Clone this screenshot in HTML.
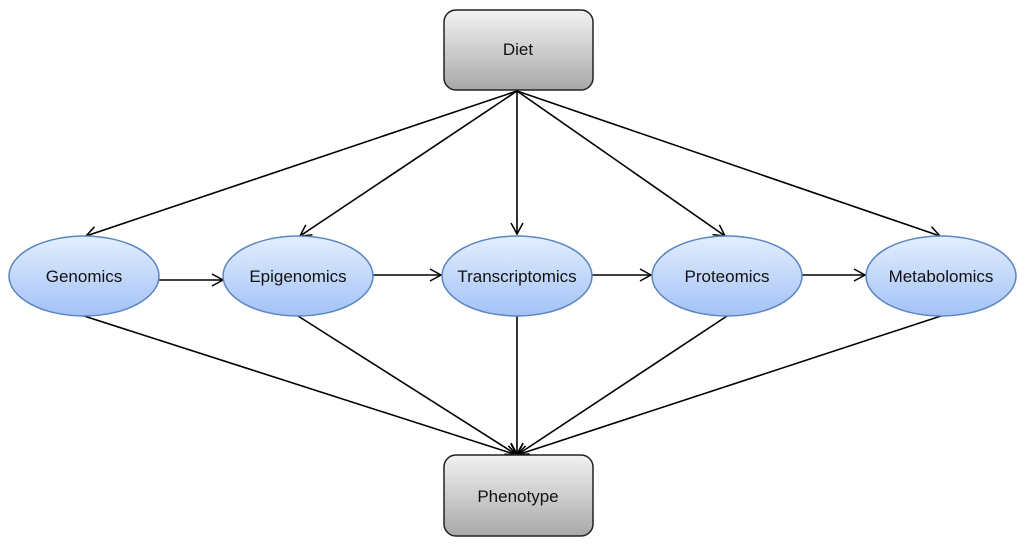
<!DOCTYPE html>
<html><head><style>
body{margin:0;background:#fff;}
svg{display:block;}
text{font-family:"Liberation Sans",sans-serif;font-size:17px;fill:#111;text-anchor:middle;}
</style></head><body>
<svg width="1024" height="550" viewBox="0 0 1024 550">
<defs>
<linearGradient id="g" x1="0" y1="0" x2="0" y2="1"><stop offset="0" stop-color="#f2f2f2"/><stop offset="1" stop-color="#a8a8a8"/></linearGradient>
<linearGradient id="b" x1="0" y1="0" x2="0" y2="1"><stop offset="0" stop-color="#e4eeff"/><stop offset="1" stop-color="#a2c2f6"/></linearGradient>
<marker id="a" markerWidth="14" markerHeight="14" refX="12" refY="7" orient="auto" markerUnits="userSpaceOnUse"><path d="M1,1 L12,7 L1,13" fill="none" stroke="#000" stroke-width="1.5"/></marker>
</defs>
<g stroke="#000" stroke-width="1.6" marker-end="url(#a)">
<line x1="517" y1="91" x2="86" y2="236"/>
<line x1="517" y1="91" x2="300" y2="236"/>
<line x1="517" y1="91" x2="517" y2="234"/>
<line x1="517" y1="91" x2="725" y2="236"/>
<line x1="517" y1="91" x2="940" y2="236"/>
<line x1="159" y1="280" x2="223" y2="280"/>
<line x1="373" y1="275" x2="441" y2="275"/>
<line x1="592" y1="275" x2="651" y2="275"/>
<line x1="802" y1="275" x2="865" y2="275"/>
<line x1="84" y1="316" x2="517" y2="455"/>
<line x1="298" y1="316" x2="517" y2="455"/>
<line x1="517" y1="316" x2="517" y2="454"/>
<line x1="727" y1="316" x2="517" y2="455"/>
<line x1="941" y1="316" x2="517" y2="455"/>
</g>
<rect x="444" y="10" width="149" height="80" rx="12" fill="url(#g)" stroke="#222" stroke-width="1.5"/>
<text x="518" y="55">Diet</text>
<rect x="444" y="455" width="149" height="81" rx="12" fill="url(#g)" stroke="#222" stroke-width="1.5"/>
<text x="518" y="502">Phenotype</text>
<g fill="url(#b)" stroke="#5b85c0" stroke-width="1.5">
<ellipse cx="84" cy="276" rx="75" ry="40"/>
<ellipse cx="298" cy="276" rx="75" ry="40"/>
<ellipse cx="517" cy="276" rx="75" ry="40"/>
<ellipse cx="727" cy="276" rx="75" ry="40"/>
<ellipse cx="941" cy="276" rx="75" ry="40"/>
</g>
<text x="84" y="282">Genomics</text>
<text x="298" y="282">Epigenomics</text>
<text x="517" y="282">Transcriptomics</text>
<text x="727" y="282">Proteomics</text>
<text x="941" y="282">Metabolomics</text>
</svg>
</body></html>
